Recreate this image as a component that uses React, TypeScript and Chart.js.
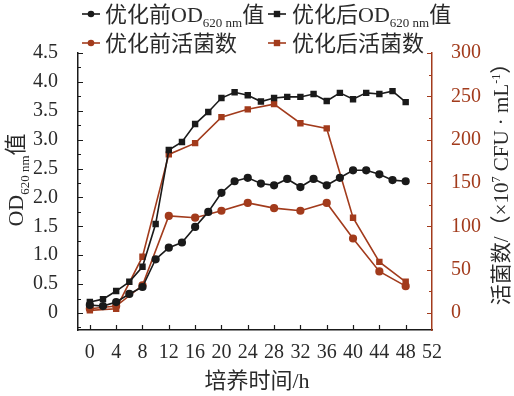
import { useEffect, useRef } from 'react';
import { Chart, registerables } from 'chart.js';

Chart.register(...registerables);

// ---- data ----
const hoursOD = [0, 2, 4, 6, 8, 10, 12, 14, 16, 18, 20, 22, 24, 26, 28, 30, 32, 34, 36, 38, 40, 42, 44, 46, 48];
const odBefore = [0.14, 0.12, 0.19, 0.33, 0.45, 0.93, 1.13, 1.22, 1.49, 1.75, 2.08, 2.28, 2.34, 2.24, 2.21, 2.32, 2.18, 2.32, 2.21, 2.34, 2.47, 2.47, 2.4, 2.3, 2.28];
const odAfter = [0.19, 0.24, 0.38, 0.54, 0.8, 1.54, 2.82, 2.96, 3.27, 3.48, 3.72, 3.82, 3.77, 3.66, 3.72, 3.74, 3.74, 3.79, 3.67, 3.81, 3.7, 3.81, 3.79, 3.84, 3.65];
const hoursCount = [0, 4, 8, 12, 16, 20, 24, 28, 32, 36, 40, 44, 48];
const countBefore = [5, 8, 32, 112, 110, 118, 127, 121, 118, 127, 86, 48, 31];
const countAfter = [3, 5, 65, 183, 196, 226, 235, 241, 219, 213, 110, 59, 36];

const xTickValues = [0, 4, 8, 12, 16, 20, 24, 28, 32, 36, 40, 44, 48, 52];
const leftTickValues = [0, 0.5, 1, 1.5, 2, 2.5, 3, 3.5, 4, 4.5];
const leftTickLabels = ['0', '0.5', '1.0', '1.5', '2.0', '2.5', '3.0', '3.5', '4.0', '4.5'];
const rightTickValues = [0, 50, 100, 150, 200, 250, 300];

const seriesNames = ['优化前OD620 nm值', '优化后OD620 nm值', '优化前活菌数', '优化后活菌数'];
// rich text segments: 0 normal, 1 subscript, 2 superscript
const legendTexts: [string, number][][] = [
  [['优化前OD', 0], ['620 nm', 1], ['值', 0]],
  [['优化后OD', 0], ['620 nm', 1], ['值', 0]],
  [['优化前活菌数', 0]],
  [['优化后活菌数', 0]],
];
const leftTitle: [string, number][] = [['OD', 0], ['620 nm', 1], ['值', 0]];
const rightTitle: [string, number][] = [['活菌数/（×10', 0], ['7', 2], [' CFU · mL', 0], ['-1', 2], ['）', 0]];
const xTitle = '培养时间/h';

const FONT = "'Liberation Serif', 'Noto Sans CJK SC', serif";
const BLACK = '#1a1a1a';
const RED = '#a23b1c';
const TEXT = '#2a2a2a';

function richWidth(ctx: CanvasRenderingContext2D, segs: [string, number][], size: number, small: number) {
  let w = 0;
  for (const [t, k] of segs) {
    ctx.font = `${k ? small : size}px ${FONT}`;
    w += ctx.measureText(t).width;
  }
  return w;
}

function drawRich(ctx: CanvasRenderingContext2D, segs: [string, number][], x: number, y: number, size: number, small: number) {
  let cx = x;
  ctx.textAlign = 'left';
  ctx.textBaseline = 'alphabetic';
  for (const [t, k] of segs) {
    ctx.font = `${k ? small : size}px ${FONT}`;
    const dy = k === 1 ? size * 0.25 : k === 2 ? -size * 0.38 : 0;
    ctx.fillText(t, cx, y + dy);
    cx += ctx.measureText(t).width;
  }
}

function drawMarker(ctx: CanvasRenderingContext2D, style: string, x: number, y: number, color: string) {
  ctx.fillStyle = color;
  if (style === 'circle') {
    ctx.beginPath();
    ctx.arc(x, y, 3.3, 0, Math.PI * 2);
    ctx.fill();
  } else {
    ctx.fillRect(x - 3.2, y - 3.2, 6.4, 6.4);
  }
}

const decorPlugin = {
  id: 'decor',
  afterDraw(chart: any) {
    const ctx: CanvasRenderingContext2D = chart.ctx;
    const { x, y, y1 } = chart.scales;
    const area = chart.chartArea;
    ctx.save();
    // inward tick marks
    ctx.lineWidth = 1.2;
    ctx.strokeStyle = BLACK;
    ctx.beginPath();
    for (const v of xTickValues) {
      const px = Math.round(x.getPixelForValue(v)) + 0.5;
      if (px > area.right - 1) continue;
      ctx.moveTo(px, area.bottom);
      ctx.lineTo(px, area.bottom - 5);
    }
    for (let v = -0.25; v <= 4.5 + 1e-9; v += 0.25) {
      if (v < y.min) continue;
      const py = Math.round(y.getPixelForValue(v)) + 0.5;
      const major = Math.abs(v * 2 - Math.round(v * 2)) < 1e-6;
      ctx.moveTo(area.left, py);
      ctx.lineTo(area.left + (major ? 5 : 3), py);
    }
    ctx.stroke();
    ctx.strokeStyle = RED;
    ctx.beginPath();
    for (let v = 0; v <= 300; v += 25) {
      const py = Math.round(y1.getPixelForValue(v)) + 0.5;
      const major = v % 50 === 0;
      ctx.moveTo(area.right, py);
      ctx.lineTo(area.right - (major ? 5 : 3), py);
    }
    ctx.stroke();

    // legend
    const ds = chart.data.datasets;
    const legendPos = [
      [82, 14, 105],
      [268, 14, 292],
      [82, 43, 105],
      [268, 43, 292],
    ];
    legendPos.forEach(([lx, ly, tx], i) => {
      const d = ds[i];
      ctx.strokeStyle = d.borderColor;
      ctx.lineWidth = 1.6;
      ctx.beginPath();
      ctx.moveTo(lx, ly);
      ctx.lineTo(lx + 18, ly);
      ctx.stroke();
      drawMarker(ctx, d.pointStyle, lx + 9, ly, d.borderColor);
      ctx.fillStyle = TEXT;
      drawRich(ctx, legendTexts[i], tx, ly + 7.5, 22, 13);
    });

    // left title (rotated)
    ctx.fillStyle = TEXT;
    ctx.save();
    ctx.translate(15, 180);
    ctx.rotate(-Math.PI / 2);
    const lw = richWidth(ctx, leftTitle, 22, 13);
    drawRich(ctx, leftTitle, -lw / 2, 8, 22, 13);
    ctx.restore();

    // right title (rotated)
    ctx.save();
    ctx.translate(500, 179);
    ctx.rotate(-Math.PI / 2);
    const rw = richWidth(ctx, rightTitle, 21, 12);
    drawRich(ctx, rightTitle, -rw / 2, 8, 21, 12);
    ctx.restore();

    // x title
    ctx.font = `22px ${FONT}`;
    ctx.textAlign = 'center';
    ctx.textBaseline = 'alphabetic';
    ctx.fillText(xTitle, 257, 388);
    ctx.restore();
  },
};

export default function App() {
  const ref = useRef<HTMLCanvasElement>(null);
  useEffect(() => {
    const canvas = ref.current;
    if (!canvas) return;
    const mk = (xs: number[], ys: number[]) => xs.map((h, i) => ({ x: h, y: ys[i] }));
    const chart = new Chart(canvas, {
      type: 'line',
      data: {
        datasets: [
          {
            label: seriesNames[0], data: mk(hoursOD, odBefore), yAxisID: 'y',
            borderColor: BLACK, backgroundColor: BLACK, pointStyle: 'circle', pointRadius: 3.3,
            pointBackgroundColor: BLACK, pointBorderColor: BLACK, borderWidth: 1.6, tension: 0,
          },
          {
            label: seriesNames[1], data: mk(hoursOD, odAfter), yAxisID: 'y',
            borderColor: BLACK, backgroundColor: BLACK, pointStyle: 'rect', pointRadius: 3.4,
            pointBackgroundColor: BLACK, pointBorderColor: BLACK, borderWidth: 1.6, tension: 0,
          },
          {
            label: seriesNames[2], data: mk(hoursCount, countBefore), yAxisID: 'y1',
            borderColor: RED, backgroundColor: RED, pointStyle: 'circle', pointRadius: 3.3,
            pointBackgroundColor: RED, pointBorderColor: RED, borderWidth: 1.6, tension: 0,
          },
          {
            label: seriesNames[3], data: mk(hoursCount, countAfter), yAxisID: 'y1',
            borderColor: RED, backgroundColor: RED, pointStyle: 'rect', pointRadius: 3.4,
            pointBackgroundColor: RED, pointBorderColor: RED, borderWidth: 1.6, tension: 0,
          },
        ] as any,
      },
      options: {
        responsive: false,
        animation: false,
        layout: { padding: { top: 53, left: 0, right: 0, bottom: 0 } },
        plugins: { legend: { display: false }, tooltip: { enabled: false } },
        scales: {
          x: {
            type: 'linear', position: 'bottom', min: -1.8, max: 52,
            afterBuildTicks: (s: any) => { s.ticks = xTickValues.map((v) => ({ value: v })); },
            afterFit: (s: any) => { s.height = 66; },
            grid: { display: false },
            border: { display: true, color: BLACK, width: 1.5 },
            ticks: { font: { family: FONT, size: 20 }, color: TEXT, padding: 3, maxRotation: 0, autoSkip: false },
          },
          y: {
            type: 'linear', position: 'left', min: -0.294, max: 4.5,
            afterBuildTicks: (s: any) => { s.ticks = leftTickValues.map((v) => ({ value: v })); },
            afterFit: (s: any) => { s.width = 78; },
            grid: { display: false },
            border: { display: true, color: BLACK, width: 1.5 },
            ticks: {
              font: { family: FONT, size: 20 }, color: TEXT, padding: 12,
              callback: (v: any) => { const i = leftTickValues.indexOf(Number(v)); return i >= 0 ? leftTickLabels[i] : ''; },
            },
          },
          y1: {
            type: 'linear', position: 'right', min: -19.6, max: 300,
            afterBuildTicks: (s: any) => { s.ticks = rightTickValues.map((v) => ({ value: v })); },
            afterFit: (s: any) => { s.width = 82; },
            grid: { display: false },
            border: { display: true, color: RED, width: 1.5 },
            ticks: { font: { family: FONT, size: 20 }, color: RED, padding: 11 },
          },
        },
      } as any,
      plugins: [decorPlugin as any],
    });
    return () => chart.destroy();
  }, []);
  return (
    <div style={{ position: 'absolute', left: 0, top: 0, width: 514, height: 396, background: '#fff' }}>
      <canvas ref={ref} width={514} height={396} style={{ display: 'block' }} />
    </div>
  );
}
